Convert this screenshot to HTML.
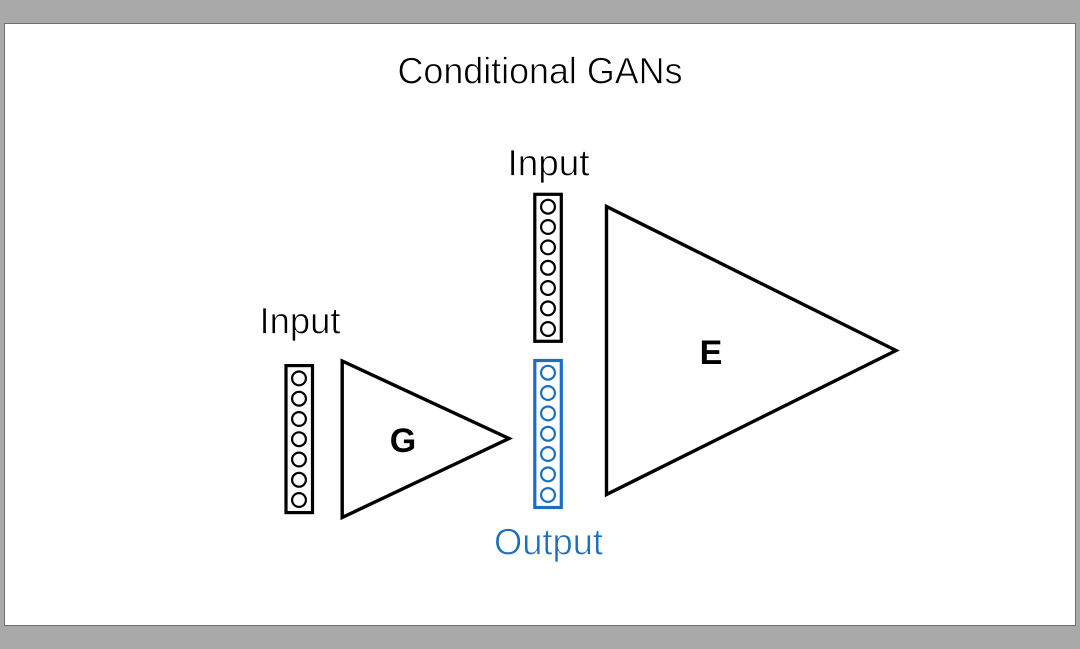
<!DOCTYPE html>
<html>
<head>
<meta charset="utf-8">
<style>
html,body{margin:0;padding:0;background:#a9a9a9;width:1080px;height:649px;overflow:hidden}
svg{display:block}
text{font-family:"Liberation Sans",sans-serif}
.thin{stroke:#fff;stroke-width:0.7px}
</style>
</head>
<body>
<svg width="1080" height="649" viewBox="0 0 1080 649" xmlns="http://www.w3.org/2000/svg">
<rect x="0" y="0" width="1080" height="649" fill="#a9a9a9"/>
<rect x="4.5" y="23.5" width="1071" height="602" fill="#ffffff" stroke="#6e6e6e" stroke-width="1"/>

<text class="thin" x="397.5" y="83.3" font-size="37" fill="#000" textLength="285" lengthAdjust="spacingAndGlyphs">Conditional GANs</text>
<text class="thin" x="507.5" y="175.3" font-size="37" fill="#000" textLength="82" lengthAdjust="spacingAndGlyphs">Input</text>
<text class="thin" x="259.5" y="333.3" font-size="37" fill="#000" textLength="81" lengthAdjust="spacingAndGlyphs">Input</text>
<text class="thin" x="494" y="554.3" font-size="37" fill="#1a6fc0" textLength="109" lengthAdjust="spacingAndGlyphs">Output</text>

<g fill="none" stroke="#000" stroke-width="3.4" stroke-linejoin="miter" stroke-miterlimit="10">
<polygon points="342.2,361 509,438.5 342.2,517.5"/>
<polygon points="606.5,206.5 896,350.5 606.5,494.5"/>
</g>

<text x="403" y="452" font-size="34" font-weight="bold" fill="#000" text-anchor="middle">G</text>
<text x="711" y="364" font-size="34" font-weight="bold" fill="#000" text-anchor="middle">E</text>

<g fill="none" stroke="#000">
<rect x="286" y="365.6" width="26.5" height="147" stroke-width="3.2"/>
<g stroke-width="2.2">
<circle cx="299" cy="378.4" r="6.9"/>
<circle cx="299" cy="398.7" r="6.9"/>
<circle cx="299" cy="419" r="6.9"/>
<circle cx="299" cy="439.2" r="6.9"/>
<circle cx="299" cy="459.5" r="6.9"/>
<circle cx="299" cy="479.8" r="6.9"/>
<circle cx="299" cy="500" r="6.9"/>
</g>
<rect x="534.8" y="194.3" width="26.5" height="147" stroke-width="3.2"/>
<g stroke-width="2.2">
<circle cx="548" cy="206.7" r="6.9"/>
<circle cx="548" cy="227" r="6.9"/>
<circle cx="548" cy="247.4" r="6.9"/>
<circle cx="548" cy="267.8" r="6.9"/>
<circle cx="548" cy="288" r="6.9"/>
<circle cx="548" cy="308.4" r="6.9"/>
<circle cx="548" cy="329" r="6.9"/>
</g>
</g>

<g fill="none" stroke="#1a6fc0">
<rect x="534.8" y="360.5" width="26.5" height="147" stroke-width="3.2"/>
<g stroke-width="2.2">
<circle cx="548" cy="372.7" r="6.9"/>
<circle cx="548" cy="393" r="6.9"/>
<circle cx="548" cy="413.4" r="6.9"/>
<circle cx="548" cy="433.8" r="6.9"/>
<circle cx="548" cy="454" r="6.9"/>
<circle cx="548" cy="474.4" r="6.9"/>
<circle cx="548" cy="495" r="6.9"/>
</g>
</g>
</svg>
</body>
</html>
